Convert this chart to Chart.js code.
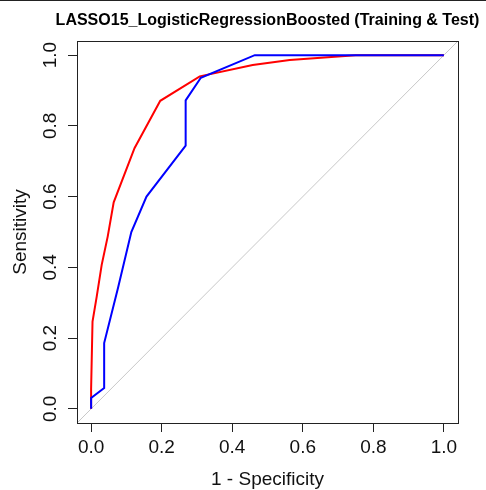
<!DOCTYPE html>
<html>
<head>
<meta charset="utf-8">
<script src="https://cdn.jsdelivr.net/npm/chart.js@4.4.0/dist/chart.umd.min.js"></script>
<style>
  html, body { margin: 0; padding: 0; background: #fff; }
  #wrap { position: relative; width: 486px; height: 490px; }
  #wrap::before { content: ""; position: absolute; left: 0; top: 0; width: 486px; height: 1px; background: #222; }
</style>
</head>
<body>
<div id="wrap"><canvas id="roc" width="486" height="490"></canvas></div>
<script>
// ROC points as [1 - specificity, sensitivity]
const trainFpr = [0, 0, 0.004, 0.016, 0.03, 0.047, 0.064, 0.123, 0.196, 0.308, 0.458, 0.563, 0.75, 1];
const trainTpr = [0, 0.056, 0.247, 0.318, 0.407, 0.487, 0.584, 0.737, 0.871, 0.940, 0.972, 0.986, 1, 1];

const testFpr = [0, 0, 0.037, 0.037, 0.076, 0.114, 0.157, 0.268, 0.268, 0.311, 0.464, 1];
const testTpr = [0, 0.031, 0.059, 0.186, 0.341, 0.50, 0.60, 0.744, 0.872, 0.936, 1, 1];

const refLine = [-0.04, 1.04];
const axisTicks = [0, 0.2, 0.4, 0.6, 0.8, 1.0];

const chartTitle = "LASSO15_LogisticRegressionBoosted (Training & Test)";

const toPoints = (xs, ys) => xs.map((x, i) => ({ x: x, y: ys[i] }));

// box round the plotting region, title centred over it
const boxPlugin = {
  id: "box",
  afterDraw(chart) {
    const { ctx, chartArea } = chart;
    ctx.save();
    ctx.strokeStyle = "#222";
    ctx.lineWidth = 1;
    ctx.strokeRect(Math.round(chartArea.left) + 0.5, Math.round(chartArea.top) + 0.5,
      Math.round(chartArea.right - chartArea.left), Math.round(chartArea.bottom - chartArea.top));
    ctx.fillStyle = "#000";
    ctx.font = "bold 16px 'Liberation Sans', Arial, sans-serif";
    ctx.textAlign = "center";
    ctx.textBaseline = "alphabetic";
    ctx.fillText(chartTitle, (chartArea.left + chartArea.right) / 2, 25);
    ctx.restore();
  },
};

const axisFont = { family: "Liberation Sans, Arial, sans-serif", size: 19 };

new Chart(document.getElementById("roc"), {
  type: "scatter",
  data: {
    datasets: [
      {
        label: "Test",
        data: toPoints(testFpr, testTpr),
        showLine: true,
        borderColor: "#0000ff",
        borderWidth: 2,
        pointRadius: 0,
        tension: 0,
        order: 0,
      },
      {
        label: "Training",
        data: toPoints(trainFpr, trainTpr),
        showLine: true,
        borderColor: "#ff0000",
        borderWidth: 2,
        pointRadius: 0,
        tension: 0,
        order: 1,
      },
      {
        label: "Reference",
        data: toPoints(refLine, refLine),
        showLine: true,
        borderColor: "#c8c8c8",
        borderWidth: 1,
        pointRadius: 0,
        order: 2,
      },
    ],
  },
  options: {
    responsive: false,
    animation: false,
    layout: { padding: { left: 0, right: 28, top: 41, bottom: 0 } },
    plugins: {
      legend: { display: false },
      tooltip: { enabled: false },
      title: { display: false },
    },
    scales: {
      x: {
        type: "linear",
        min: -0.04,
        max: 1.04,
        afterFit: (scale) => { scale.height = 67; },
        afterBuildTicks: (scale) => { scale.ticks = axisTicks.map((v) => ({ value: v })); },
        grid: { display: true, drawOnChartArea: false, color: "#222", tickLength: 9 },
        border: { display: true, color: "#222" },
        ticks: {
          color: "#111",
          font: axisFont,
          padding: 4,
          maxRotation: 0,
          callback: (v) => Number(v).toFixed(1),
        },
        title: {
          display: true,
          text: "1 - Specificity",
          color: "#111",
          font: { family: "Liberation Sans, Arial, sans-serif", size: 19, lineHeight: 1 },
          padding: { top: 0, bottom: 1 },
        },
      },
      y: {
        type: "linear",
        min: -0.04,
        max: 1.04,
        afterFit: (scale) => { scale.width = 77; },
        afterBuildTicks: (scale) => { scale.ticks = axisTicks.map((v) => ({ value: v })); },
        grid: { display: true, drawOnChartArea: false, color: "#222", tickLength: 9 },
        border: { display: true, color: "#222" },
        ticks: {
          color: "#111",
          font: axisFont,
          padding: 4,
          minRotation: 90,
          maxRotation: 90,
          crossAlign: "center",
          callback: (v) => Number(v).toFixed(1),
        },
        title: {
          display: true,
          text: "Sensitivity",
          color: "#111",
          font: { family: "Liberation Sans, Arial, sans-serif", size: 19, lineHeight: 1 },
          padding: { top: 11, bottom: 0 },
        },
      },
    },
  },
  plugins: [boxPlugin],
});
</script>
</body>
</html>
